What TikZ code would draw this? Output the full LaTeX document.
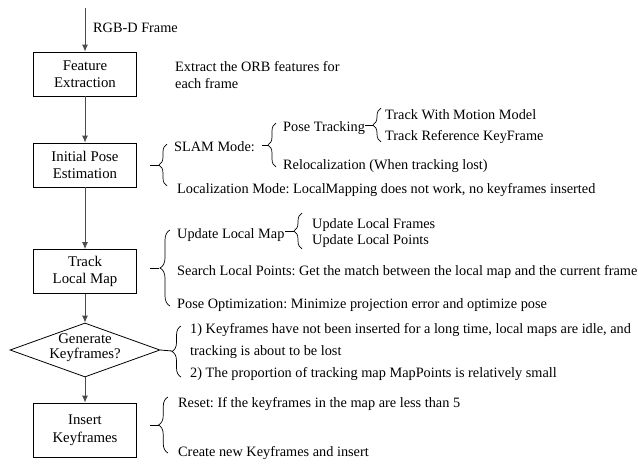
\documentclass[tikz,border=0pt]{standalone}
\usepackage{fontspec}
\setmainfont{Liberation Serif}
\usetikzlibrary{arrows.meta,shapes.geometric,decorations.pathreplacing}
\frenchspacing

\begin{document}
\begin{tikzpicture}[x=1pt,y=-1pt,
  font=\fontsize{14.8pt}{17.5pt}\selectfont,
  box/.style={draw=black, line width=0.8pt, minimum width=103pt, minimum height=44pt, align=center, inner sep=0pt},
  flow/.style={draw=black!70, line width=0.9pt, -{Latex[length=7pt,width=6pt]}},
  txt/.style={anchor=base west, inner sep=0pt, font=\fontsize{14.3pt}{17.5pt}\selectfont},
  tick/.style={draw=black, line width=0.8pt},
  curly/.style={draw=black, line width=0.7pt, decorate, decoration={brace, amplitude=#1}},
  curly/.default=8pt]

\useasboundingbox (0,0) rectangle (638,466);

% main flow
\coordinate (in) at (85,8);
\node[box] (fe) at (85,74) {Feature\\Extraction};
\node[box] (ip) at (85,165) {Initial Pose\\Estimation};
\node[box] (tl) at (85,271.5) {Track\\Local Map};
\node[draw=black, line width=0.8pt, diamond, minimum width=150pt, minimum height=54pt, inner sep=0pt] (kf) at (85,350) {};
\node[align=center, font=\fontsize{14.8pt}{15pt}\selectfont] at (85,348) {Generate\\Keyframes?};
\node[box, minimum height=54pt] (ik) at (85,430) {Insert\\Keyframes};

\draw[flow] (in) -- (fe.north);
\draw[flow] (fe.south) -- (ip.north);
\draw[flow] (ip.south) -- (tl.north);
\draw[flow] (tl.south) -- (kf.north);
\draw[flow] (kf.south) -- (ik.north);

% notes
\node[txt] (rgbd) at (93,32) {RGB-D Frame};
\node[txt, align=left] (orb) at (175,88.5) {Extract the ORB features for\\each frame};

% initial pose estimation
\coordinate (t1a) at (150,165); \coordinate (t1b) at (158.5,165);
\draw[tick] (t1a) -- (t1b);
\coordinate (b1a) at (167,186); \coordinate (b1b) at (167,144);
\draw[curly] (b1a) -- (b1b);
\node[txt] (slam) at (174,151) {SLAM Mode:};
\node[txt] (loc) at (177,193) {Localization Mode: LocalMapping does not work, no keyframes inserted};

\coordinate (t2a) at (262,145); \coordinate (t2b) at (268,145);
\draw[tick] (t2a) -- (t2b);
\coordinate (b2a) at (276,167); \coordinate (b2b) at (276,123);
\draw[curly] (b2a) -- (b2b);
\node[txt] (pt) at (283,131) {Pose Tracking};
\node[txt] (rel) at (283,169) {Relocalization (When tracking lost)};

\coordinate (t3a) at (365,125); \coordinate (t3b) at (373,125);
\draw[tick] (t3a) -- (t3b);
\coordinate (b3a) at (381,142); \coordinate (b3b) at (381,108);
\draw[curly] (b3a) -- (b3b);
\node[txt] (mm) at (385,119) {Track With Motion Model};
\node[txt] (rk) at (385,140) {Track Reference KeyFrame};

% track local map
\coordinate (t4a) at (150,268); \coordinate (t4b) at (158.5,268);
\draw[tick] (t4a) -- (t4b);
\coordinate (b4a) at (170,306); \coordinate (b4b) at (170,230);
\draw[curly=10pt] (b4a) -- (b4b);
\node[txt] (ulm) at (177,238) {Update Local Map};
\node[txt] (slp) at (177,275) {Search Local Points: Get the match between the local map and the current frame};
\node[txt] (po) at (177,308) {Pose Optimization: Minimize projection error and optimize pose};

\coordinate (t5a) at (285,231); \coordinate (t5b) at (294,231);
\draw[tick] (t5a) -- (t5b);
\coordinate (b5a) at (302,249); \coordinate (b5b) at (302,213);
\draw[curly] (b5a) -- (b5b);
\node[txt] (ulf) at (312,228) {Update Local Frames};
\node[txt] (ulp) at (312,244) {Update Local Points};

% keyframe decision
\coordinate (t6b) at (172,351);
\draw[tick] (kf.east) -- (t6b);
\coordinate (b6a) at (181,377); \coordinate (b6b) at (181,326);
\draw[curly=9pt] (b6a) -- (b6b);
\node[txt] (c1) at (190,333) {1) Keyframes have not been inserted for a long time, local maps are idle, and};
\node[txt] (c1b) at (190,355) {tracking is about to be lost};
\node[txt] (c2) at (190,377) {2) The proportion of tracking map MapPoints is relatively small};

% insert keyframes
\coordinate (t7a) at (150,425); \coordinate (t7b) at (158.5,425);
\draw[tick] (t7a) -- (t7b);
\coordinate (b7a) at (168,453); \coordinate (b7b) at (168,397);
\draw[curly=9.5pt] (b7a) -- (b7b);
\node[txt] (rs) at (178,407) {Reset: If the keyframes in the map are less than 5};
\node[txt] (cr) at (178,456) {Create new Keyframes and insert};

\end{tikzpicture}
\end{document}
